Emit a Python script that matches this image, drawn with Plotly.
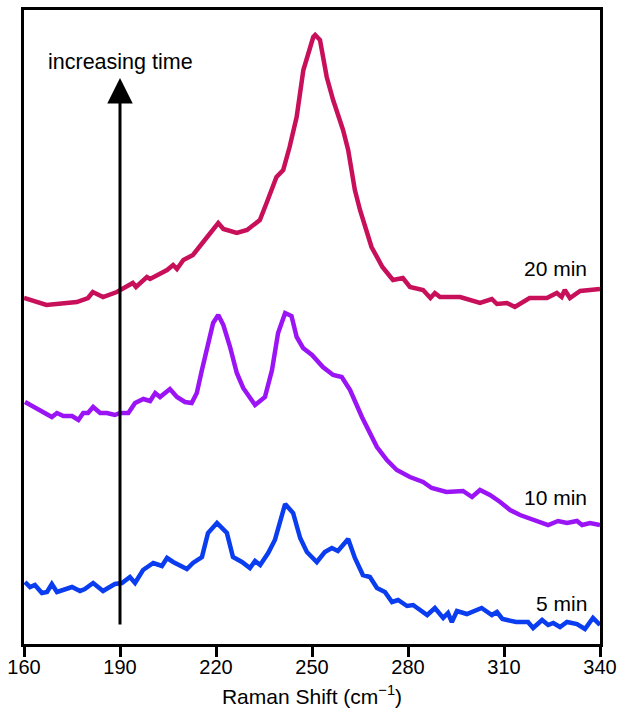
import plotly.graph_objects as go

# Raman shift (cm^-1) and intensity (a.u.) for each spectrum
x_20 = [160, 167, 176.5, 180, 181.5, 184.7, 189, 194, 195, 198.4, 199.4, 204.7, 206.6, 207.8, 209.8,
        212.8, 216, 219, 220.7, 222.3, 226.5, 229.7, 232.8, 233.7, 235.8, 238.9, 241, 243, 245.2,
        247.3, 250.4, 251, 252.5, 254.6, 256.6, 259.7, 261.3, 263.4, 265, 268.6, 272, 275.3, 278.4,
        280.6, 284.7, 287, 288.4, 290, 296.3, 302.5, 306.2, 307.8, 310.9, 313.4, 318, 323.4, 326.5,
        328, 329, 330.6, 333.8, 340]
y_20 = [346, 339, 342, 346, 352, 347, 352, 361, 357, 367, 365, 374, 379, 375, 384,
        389, 402, 414, 421, 415, 411, 414, 422, 424, 441, 467, 474, 497, 527,
        574, 607, 609, 604, 567, 544, 514, 494, 454, 434, 397, 377, 364, 366,
        357, 354, 346, 351, 347, 347, 341, 345, 340, 341, 337, 346, 346, 351,
        347, 354, 346, 353, 355]

x_10 = [160.3, 163, 166, 168.7, 170.3, 172.3, 175, 177, 178.5, 180, 181.6, 183.8, 185.9, 188.4, 190,
        192.6, 194.7, 197.3, 199.4, 201, 202.5, 205.6, 207.8, 210.3, 212.4, 214, 215.6, 217.5, 219.1,
        220.7, 222.3, 224.4, 226.5, 228.5, 232.2, 235.3, 237.5, 239.4, 241.6, 243.6, 245.2, 247.2, 250,
        253.4, 256.6, 259.3, 261.9, 265.6, 268.1, 270.3, 273.4, 276.5, 280.6, 284.7, 287.4, 292, 297.2,
        300, 302.5, 305.6, 308.8, 311.9, 315, 319.1, 323.8, 326.9, 329.7, 332.8, 334.4, 336.9, 340]
y_10 = [242, 237, 232, 227, 231, 228, 228, 224, 231, 231, 237, 231, 231, 229, 231,
        231, 241, 245, 243, 251, 247, 255, 247, 242, 241, 251, 274, 301, 321,
        329, 319, 297, 271, 256, 239, 247, 274, 311, 331, 328, 307, 296, 289,
        277, 269, 267, 254, 227, 211, 197, 184, 174, 167, 162, 156, 152, 153,
        147, 154, 149, 142, 134, 129, 124, 119, 123, 121, 123, 119, 121, 119]

x_5 = [160.3, 161.9, 163.4, 165.6, 167.2, 168.7, 170.3, 175, 177.5, 179, 181.6, 184.7, 188.4, 190.6,
       193.1, 194.7, 197.2, 200.4, 203.1, 204.7, 206.6, 208.8, 210.9, 212.8, 215.6, 217.5, 220.3,
       223.4, 225.3, 228.1, 230.6, 232.2, 233.8, 236.3, 238.4, 241.6, 244.1, 246.3, 248.4, 251.5,
       254, 256.2, 258.1, 261.3, 263.4, 265.9, 268.1, 270.3, 272.8, 275, 276.9, 279.7, 281.6, 286,
       288.4, 291, 292.5, 293.7, 295.3, 298.4, 303, 306.2, 307.8, 309.5, 313.8, 317.5, 319.1, 321.9,
       323.8, 325.4, 327.5, 329.7, 332.8, 335.3, 337.8, 340]
y_5 = [62, 57, 59, 51, 52, 60, 52, 57, 53, 55, 61, 53, 60, 61,
       67, 61, 74, 81, 78, 86, 82, 79, 75, 81, 87, 111, 121,
       111, 87, 82, 76, 83, 79, 91, 104, 140, 131, 106, 92, 82,
       92, 96, 93, 105, 86, 69, 67, 56, 52, 42, 44, 38, 39, 29,
       36, 26, 31, 22, 33, 30, 36, 29, 32, 25, 22, 22, 16, 24,
       19, 21, 17, 22, 20, 15, 26, 19]

series_labels = ["20 min", "10 min", "5 min"]
label_y = [376, 147, 41]
x_ticks = [160, 190, 220, 250, 280, 310, 340]

colors = ["#C8105A", "#9B14F5", "#0A3CF0"]
FONT = "Liberation Sans, Arial, sans-serif"
FS = 20

fig = go.Figure()
for xs, ys, c, name in zip([x_20, x_10, x_5], [y_20, y_10, y_5], colors, series_labels):
    fig.add_trace(go.Scatter(x=xs, y=ys, mode="lines", name=name,
                             line=dict(color=c, width=4.5), showlegend=False))

for name, ly in zip(series_labels, label_y):
    fig.add_annotation(x=336.5, y=ly, xref="x", yref="y", text=name, showarrow=False,
                       xanchor="right", yanchor="middle",
                       font=dict(family=FONT, size=21, color="black"))

# increasing time arrow
fig.add_annotation(x=190, y=566, ax=190, ay=18, xref="x", yref="y", axref="x", ayref="y",
                   text="", showarrow=True, arrowhead=2, arrowsize=1.7, arrowwidth=3,
                   arrowcolor="black")
fig.add_annotation(x=190, y=582, xref="x", yref="y", text="increasing time", showarrow=False,
                   xanchor="center", yanchor="middle",
                   font=dict(family=FONT, size=21.5, color="black"))

fig.update_layout(
    width=619, height=713,
    margin=dict(l=24, r=19, t=10, b=69, autoexpand=False),
    plot_bgcolor="white", paper_bgcolor="white",
    font=dict(family=FONT, size=FS, color="black"),
)
fig.update_xaxes(range=[160, 340], tickvals=x_ticks, ticks="outside", ticklen=10, tickwidth=2.5,
                 tickcolor="black", showline=True, linecolor="black", linewidth=3, mirror=True,
                 showgrid=False, zeroline=False, automargin=False, ticklabelstandoff=-7,
                 title=dict(text="Raman Shift (cm<sup>−1</sup>)", font=dict(family=FONT, size=21),
                            standoff=13),
                 tickfont=dict(family=FONT, size=FS))
fig.update_yaxes(range=[0, 634], showticklabels=False, ticks="", showline=True, linecolor="black",
                 linewidth=3, mirror=True, showgrid=False, zeroline=False, automargin=False)

fig.write_html("out.html", config={"displayModeBar": False},
               post_script="document.body.style.margin='0';")
